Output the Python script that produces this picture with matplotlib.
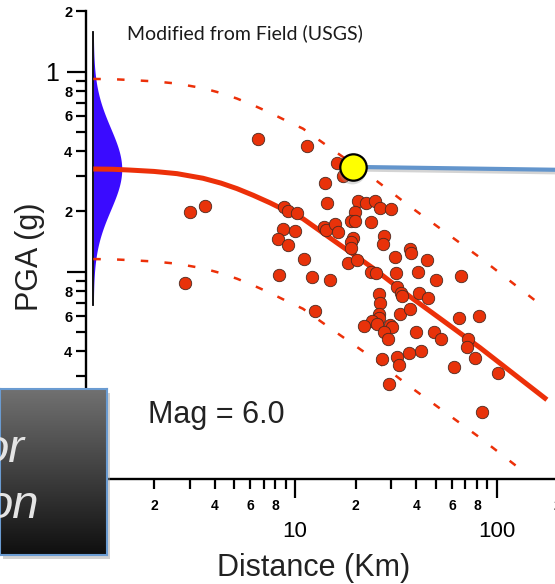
import matplotlib
import matplotlib.pyplot as plt
import numpy as np
from matplotlib import patches, ticker
from matplotlib.colors import LinearSegmentedColormap

matplotlib.use("agg")

plt.rcParams["font.family"] = ["Liberation Sans", "DejaVu Sans"]

# ---- data ----------------------------------------------------------------
# recorded ground motions: distance (km) and PGA (g)
dist_km = [
    6.56, 11.47, 16.15, 17.30, 14.08, 14.41, 3.02, 3.58, 2.85, 8.82,
    9.23, 10.23, 20.53, 22.49, 24.93, 26.39, 29.92, 19.84, 18.95, 19.84,
    23.82, 8.72, 10.00, 8.24, 9.23, 13.92, 14.25, 15.79, 16.34, 19.39,
    18.95, 18.95, 27.63, 27.31, 11.08, 18.31, 20.30, 37.17, 37.59, 31.32,
    45.11, 8.33, 12.14, 14.91, 23.82, 25.21, 31.67, 40.72, 50.02, 66.53,
    32.03, 33.54, 33.93, 41.19, 45.63, 26.09, 26.39, 12.57, 26.09, 26.09,
    33.16, 37.17, 65.04, 81.72, 24.09, 21.99, 25.50, 29.58, 30.26, 27.63,
    28.91, 39.81, 48.89, 52.95, 72.06, 71.25, 78.06, 101.5, 84.55, 61.42,
    42.14, 36.75, 32.03, 32.78, 27.00, 29.25,
]
pga_g = [
    0.461, 0.426, 0.350, 0.301, 0.278, 0.221, 0.199, 0.214, 0.0881, 0.211,
    0.202, 0.197, 0.226, 0.221, 0.226, 0.209, 0.206, 0.199, 0.180, 0.180,
    0.178, 0.164, 0.160, 0.146, 0.136, 0.168, 0.162, 0.174, 0.157, 0.148,
    0.141, 0.132, 0.151, 0.138, 0.116, 0.111, 0.115, 0.130, 0.124, 0.119,
    0.115, 0.0966, 0.0944, 0.0912, 0.100, 0.0989, 0.0989, 0.100, 0.0912, 0.0955,
    0.0841, 0.0785, 0.0759, 0.0785, 0.0742, 0.0777, 0.0700, 0.0638, 0.0617, 0.0589,
    0.0617, 0.0653, 0.0589, 0.0603, 0.0569, 0.0537, 0.0550, 0.0544, 0.0531, 0.0501,
    0.0458, 0.0501, 0.0501, 0.0463, 0.0463, 0.0422, 0.0372, 0.0313, 0.0198, 0.0332,
    0.0399, 0.0394, 0.0376, 0.0343, 0.0364, 0.0276,
]

# median attenuation curve
median_dist = [1.0, 1.25, 1.52, 2.0, 2.6, 3.5, 4.3, 5.16, 6.2, 7.51, 9.0,
               10.95, 16.71, 24.4, 37.2, 54.2, 82.6, 177.4]
median_pga = [0.326, 0.325, 0.322, 0.317, 0.309, 0.293, 0.277, 0.260, 0.241,
              0.221, 0.202, 0.184, 0.136, 0.104, 0.0750, 0.0569, 0.0417, 0.0229]
band_factor = 2.82  # dashed lines = median x/÷ this

# highlighted event and its link line
event_dist, event_pga = 19.4, 0.334
link_dist = [19.4, 200.0]
link_pga = [0.334, 0.323]

# lognormal spread drawn on the y axis
spread_median = 0.326
spread_sigma = 0.205   # decades
spread_peak = 0.141    # decades of distance at the peak
spread_lo, spread_hi = 0.068, 1.57

# ticks
x_major = [10, 100]
x_major_labels = ["10", "100"]
x_minor = [2, 3, 4, 5, 6, 7, 8, 9, 20, 30, 40, 50, 60, 70, 80, 90, 200]
x_minor_labels = ["2", "", "4", "", "6", "", "8", "", "2", "", "4", "", "6", "", "8", "", "2"]
y_major = [0.01, 0.1, 1]
y_major_labels = ["", "", "1"]
y_minor = [0.02, 0.03, 0.04, 0.05, 0.06, 0.07, 0.08, 0.09,
           0.2, 0.3, 0.4, 0.5, 0.6, 0.7, 0.8, 0.9, 2.0]
y_minor_labels = ["2", "", "4", "", "6", "", "8", "",
                  "2", "", "4", "", "6", "", "8", "", "2"]

RED = "#ec3009"
W, H = 555, 584


def fx(px):
    return px / W


def fy(py):
    return (H - py) / H


fig = plt.figure(figsize=(W / 100, H / 100), dpi=100, facecolor="white")
ax = fig.add_axes([fx(93.3), fy(471.7), fx(557.4) - fx(93.3), fy(11.4) - fy(471.7)])
ax.set_xscale("log")
ax.set_yscale("log")
ax.set_xlim(1, 200)
ax.set_ylim(0.01, 2.0)

for side in ("top", "right"):
    ax.spines[side].set_visible(False)
ax.spines["left"].set_position(("outward", 5))
ax.spines["bottom"].set_position(("outward", 5.3))
for side in ("left", "bottom"):
    ax.spines[side].set_linewidth(1.7)

ax.xaxis.set_major_locator(ticker.FixedLocator(x_major))
ax.xaxis.set_major_formatter(ticker.FixedFormatter(x_major_labels))
ax.xaxis.set_minor_locator(ticker.FixedLocator(x_minor))
ax.xaxis.set_minor_formatter(ticker.FixedFormatter(x_minor_labels))
ax.yaxis.set_major_locator(ticker.FixedLocator(y_major))
ax.yaxis.set_major_formatter(ticker.FixedFormatter(y_major_labels))
ax.yaxis.set_minor_locator(ticker.FixedLocator(y_minor))
ax.yaxis.set_minor_formatter(ticker.FixedFormatter(y_minor_labels))

ax.tick_params(which="major", direction="out", length=14, width=1.6)
ax.tick_params(which="minor", direction="out", length=7, width=1.6)
ax.tick_params(axis="x", which="minor", labelsize=10, pad=7)
ax.tick_params(axis="x", which="major", labelsize=16, pad=16)
ax.tick_params(axis="y", which="minor", labelsize=10.5, pad=3)
ax.tick_params(axis="y", which="major", labelsize=18, pad=6)
for lbl in ax.get_xticklabels(minor=True) + ax.get_yticklabels(minor=True):
    lbl.set_fontweight("bold")

# spread on the y axis
t = np.linspace(np.log10(spread_lo / spread_median), np.log10(spread_hi / spread_median), 300)
yy = spread_median * 10 ** t
xx = 10 ** (spread_peak * np.exp(-t ** 2 / (2 * spread_sigma ** 2)))
ax.fill_betweenx(yy, 1.0, xx, color="#3a0bff", lw=0, zorder=2, clip_on=False)
ax.plot([1, 1], [spread_lo, spread_hi], color="black", lw=1.3, zorder=3, clip_on=False)

# model curves
med_d = np.array(median_dist)
med_p = np.array(median_pga)
ax.plot(med_d, med_p * band_factor, color=RED, lw=1.8, dashes=(3, 6.5), zorder=3)
ax.plot(med_d, med_p / band_factor, color=RED, lw=1.8, dashes=(3, 6.5), zorder=3)
ax.plot(med_d, med_p, color=RED, lw=3.6, solid_capstyle="butt", zorder=3)

# observations
ax.scatter(dist_km, pga_g, s=80, color="#e8320a", edgecolors="#4a2a20",
           linewidths=0.6, zorder=4)

# highlighted event
ax.plot(link_dist, [p * 0.975 for p in link_pga], color="#b8b8b8", lw=3.5,
        alpha=0.6, zorder=5)
ax.plot(link_dist, link_pga, color="#6395cc", lw=3.0, zorder=6)
ax.plot(event_dist * 0.99, event_pga * 0.965, "o", ms=20, color="#9a9a9a",
        alpha=0.35, mec="none", zorder=6)
ax.plot(event_dist, event_pga, "o", ms=19, mfc="#ffff00", mec="black",
        mew=1.6, zorder=7)

# labels
fig.text(fx(313.5), fy(568), "Distance (Km)", fontsize=22, ha="center",
         va="center", color="#222222")
fig.text(fx(30), fy(257), "PGA (g)", fontsize=22, rotation=90, ha="center",
         va="center", color="#222222")
fig.text(fx(148), fy(423), "Mag = 6.0", fontsize=22, ha="left",
         va="baseline", color="#222222")
fig.text(fx(244.5), fy(33), "Modified from Field (USGS)", fontsize=14,
         family=["Lato", "DejaVu Sans"], ha="center", va="center",
         color="#1a1a1a")

# dark overlay box at lower left
bx0, by0, bx1, by1 = 0, 389, 107, 555
shadow = patches.Rectangle((fx(bx0 + 3), fy(by1 + 4)), fx(bx1 - bx0),
                           fy(by0) - fy(by1), transform=fig.transFigure,
                           color="#999999", alpha=0.45, lw=0, zorder=1)
fig.patches.append(shadow)
box = fig.add_axes([fx(bx0), fy(by1), fx(bx1 - bx0), fy(by0) - fy(by1)], zorder=3)
grad = np.linspace(0, 1, 256).reshape(-1, 1)
box.imshow(grad, aspect="auto", extent=[0, 1, 0, 1],
           cmap=LinearSegmentedColormap.from_list("g", ["#717171", "#0f0f0f"]))
box.set_xticks([])
box.set_yticks([])
for s in box.spines.values():
    s.set_color("#6a9bd1")
    s.set_linewidth(1.5)
fig.text(fx(24), fy(462), "or", fontsize=34, style="italic", ha="right",
         va="baseline", color="#e4e4e4", zorder=5)
fig.text(fx(39), fy(518), "on", fontsize=34, style="italic", ha="right",
         va="baseline", color="#e4e4e4", zorder=5)

fig.savefig("out.png", dpi=100, facecolor="white")
plt.close(fig)
